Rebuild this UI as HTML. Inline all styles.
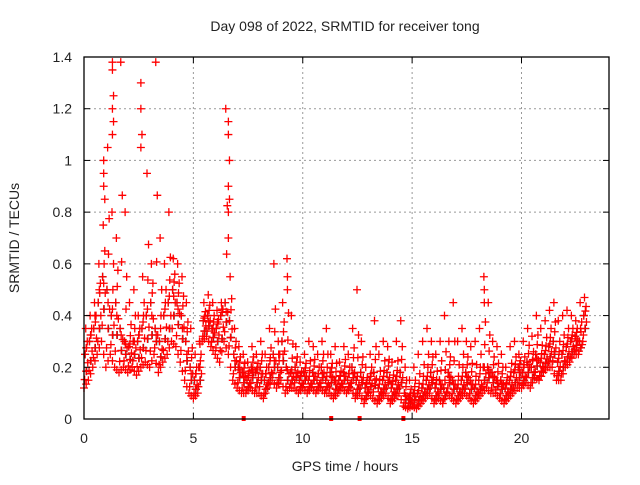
<!DOCTYPE html>
<html><head><meta charset="utf-8"><style>
body{margin:0;background:#fff;}
svg text{font-family:"Liberation Sans",sans-serif;font-size:14px;fill:#222;}
</style></head><body>
<svg id="chart" width="640" height="480" viewBox="0 0 640 480">
<text x="345" y="31" text-anchor="middle">Day 098 of 2022, SRMTID for receiver tong</text>
<text transform="translate(19,238) rotate(-90)" text-anchor="middle">SRMTID / TECUs</text>
<text x="345" y="471" text-anchor="middle">GPS time / hours</text>
<g id="grid"></g><g id="marks"></g>
<rect x="84" y="57" width="525" height="362" fill="none" stroke="#000" stroke-width="1.3"/>
<g id="ticks"></g>
</svg>
<script>
const yTicks=[0,0.2,0.4,0.6,0.8,1,1.2,1.4];
const yLabels=["0","0.2","0.4","0.6","0.8","1","1.2","1.4"];
const xTicks=[0,5,10,15,20];
const tStart=0, tStep=0.2;
const lo=[.12,.15,.2,.25,.3,.2,.25,.2,.18,.2, .18,.2,.17,.2,.22,.2,.25,.18,.22,.25, .3,.28,.22,.15,.1,.08,.1,.3,.32,.28, .25,.22,.3,.25,.15,.12,.1,.1,.12,.1, .1,.08,.12,.15,.12,.15,.1,.12,.12,.1, .12,.1,.12,.1,.12,.1,.1,.08,.1,.12, .1,.12,.08,.1,.06,.1,.08,.06,.08,.1, .06,.08,.1,.05,.04,.05,.04,.06,.08,.1, .06,.08,.06,.1,.08,.06,.08,.1,.08,.06, .08,.1,.12,.1,.1,.08,.06,.08,.1,.12, .12,.14,.12,.16,.15,.18,.2,.2,.15,.15, .2,.22,.25,.25,.3];
const mid=[.25,.3,.35,.45,.55,.5,.4,.45,.35,.3, .28,.3,.3,.35,.4,.45,.35,.3,.4,.45, .5,.45,.4,.3,.2,.15,.2,.38,.4,.35, .35,.4,.45,.38,.25,.2,.18,.15,.2,.18, .2,.15,.2,.25,.2,.3,.2,.18,.2,.15, .18,.15,.18,.15,.2,.15,.18,.15,.15,.18, .15,.2,.15,.18,.12,.15,.18,.12,.15,.18, .12,.15,.18,.1,.08,.1,.1,.12,.15,.18, .12,.15,.12,.18,.15,.12,.15,.18,.15,.12, .15,.2,.2,.18,.15,.15,.12,.15,.18,.2, .18,.22,.2,.25,.22,.25,.28,.3,.22,.25, .28,.3,.32,.3,.4];
const hi=[.35,.4,.45,.6,.75,1.05,.8,.7,1.38,.8, .45,.5,.4,.55,.95,.6,1.38,.7,.6,.8, .62,.6,.55,.45,.35,.25,.3,.45,.48,.45, .42,.45,1.2,.55,.35,.28,.25,.22,.28,.25, .3,.25,.35,.6,.3,.45,.62,.4,.28,.22, .25,.3,.28,.25,.3,.35,.25,.28,.22,.28, .25,.35,.5,.3,.2,.25,.38,.25,.3,.28, .22,.3,.38,.2,.15,.2,.25,.3,.35,.3, .25,.3,.4,.3,.45,.3,.35,.3,.28,.3, .35,.55,.45,.3,.28,.25,.2,.28,.3,.25, .3,.35,.32,.4,.35,.38,.42,.45,.38,.4, .42,.4,.38,.45,.47];
const spikeT=[0.9,0.9,0.9,0.95,1.3,1.3,1.35,1.3,1.35,1.3,2.6,2.6,2.65,2.6,6.6,6.6,6.65,6.6,6.65,6.6,6.6,9.3,9.3,18.3,18.3];
const spikeV=[1.0,0.95,0.9,0.85,1.38,1.35,1.25,1.2,1.15,1.1,1.3,1.2,1.1,1.05,1.15,1.1,1.0,0.9,0.85,0.8,0.7,0.55,0.5,0.5,0.45];
const flagT=[7.3,11.3,12.6,14.6];

const X0=84,X1=609,Y0=419,Y1=57;
const xs=t=>X0+t/24*(X1-X0);
const ys=v=>Y0-v/1.4*(Y0-Y1);
const NS="http://www.w3.org/2000/svg";
function mk(tag,attrs,parent){const e=document.createElementNS(NS,tag);for(const k in attrs)e.setAttribute(k,attrs[k]);parent.appendChild(e);return e;}
const grid=document.getElementById('grid'),ticks=document.getElementById('ticks'),marks=document.getElementById('marks');
yTicks.forEach((v,i)=>{
 if(v>0&&v<1.4){const g=mk('line',{x1:X0,x2:X1,y1:ys(v),y2:ys(v),stroke:'#999','stroke-dasharray':'2,3'},grid);
 
 }
 const t=mk('line',{x1:X0,x2:X0+6,y1:ys(v),y2:ys(v),stroke:'#000'},ticks);
 
 
 mk('line',{x1:X1-6,x2:X1,y1:ys(v),y2:ys(v),stroke:'#000'},ticks);
 const l=mk('text',{x:X0-12,y:ys(v)+5,'text-anchor':'end'},ticks);l.textContent=yLabels[i];
 
 
});
xTicks.forEach(v=>{
 if(v>0){const g=mk('line',{x1:xs(v),x2:xs(v),y1:Y0,y2:Y1,stroke:'#999','stroke-dasharray':'2,3'},grid);
 
 }
 const t=mk('line',{x1:xs(v),x2:xs(v),y1:Y0,y2:Y0-6,stroke:'#000'},ticks);
 
 
 mk('line',{x1:xs(v),x2:xs(v),y1:Y1,y2:Y1+6,stroke:'#000'},ticks);
 const l=mk('text',{x:xs(v),y:Y0+24,'text-anchor':'middle'},ticks);l.textContent=String(v);
 
 
});
function plus(t,v,color){
 const x=xs(t),y=ys(v);
 const p=mk('path',{d:`M${x-4},${y}H${x+4}M${x},${y-4}V${y+4}`,stroke:color,'stroke-width':1.3,fill:'none'},marks);
 
 
}
for(let i=0;i<mid.length;i++){const t=tStart+i*tStep;plus(t+0.05,mid[i],'#333');plus(t+0.12,(lo[i]+mid[i])/2,'#333');}
for(let i=0;i<lo.length;i++){
 const t=tStart+i*tStep;
 plus(t,lo[i],'#f00');plus(t+0.1,(lo[i]+mid[i])/2,'#f00');plus(t+0.05,mid[i],'#f00');
 plus(t+0.15,(mid[i]+hi[i])/2,'#f00');plus(t+0.08,hi[i],'#f00');
 plus(t+0.03,(3*lo[i]+mid[i])/4,'#f00');plus(t+0.17,(lo[i]+3*mid[i])/4,'#f00');
 plus(t+0.12,(3*mid[i]+hi[i])/4,'#f00');
 if(i+1<lo.length){plus(t+0.1,(lo[i]+lo[i+1])/2,'#f00');plus(t+0.1,(mid[i]+mid[i+1])/2,'#f00');}
}
spikeT.forEach((t,i)=>plus(t,spikeV[i],'#f00'));
flagT.forEach(t=>{const r=mk('rect',{x:xs(t)-2,y:Y0-3,width:4,height:5,fill:'#f00'},marks);
 
 });
</script>
</body></html>
